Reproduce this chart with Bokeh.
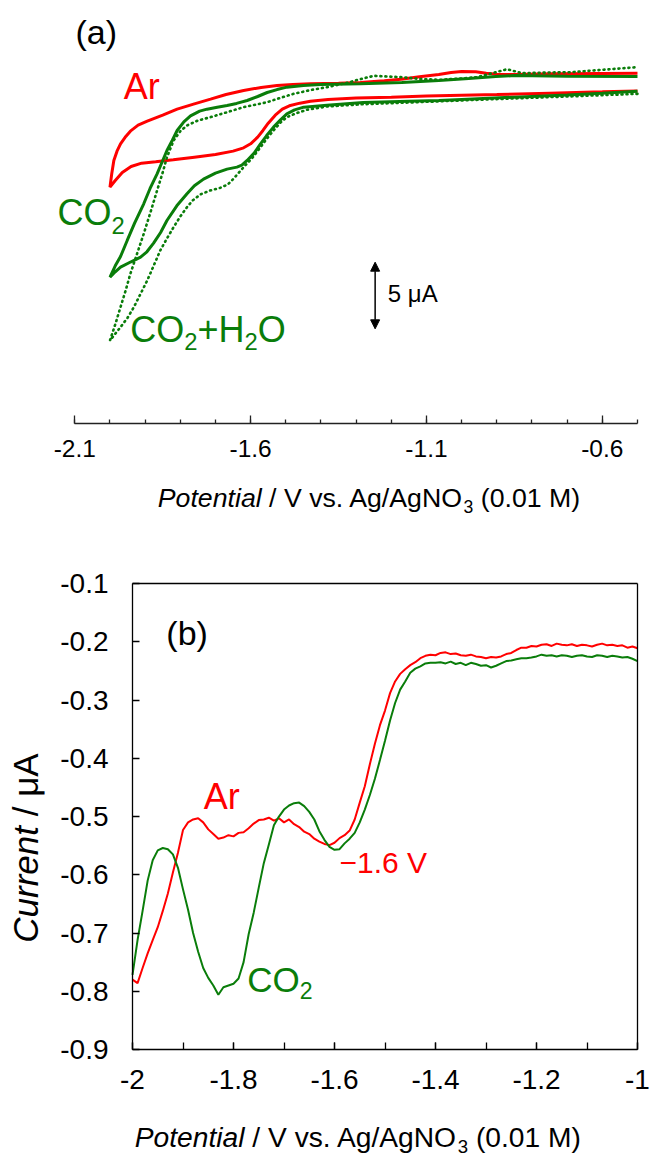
import math
from bokeh.plotting import figure
from bokeh.models import Range1d, FixedTicker, Label, Arrow, NormalHead, LinearAxis
from bokeh.layouts import column
from bokeh.embed import file_html
from bokeh.resources import INLINE

# ---------------- data: panel (a) cyclic voltammograms (current in uA) ----------------
ar_cv_v = [-0.5, -0.6, -0.75, -0.9, -1.0, -1.1, -1.2, -1.3, -1.38, -1.43, -1.46, -1.49, -1.51, -1.53,
           -1.55, -1.565, -1.58, -1.60, -1.62, -1.65, -1.70, -1.76, -1.82, -1.87, -1.91, -1.94, -1.965,
           -1.985, -2.0,
           -1.995, -1.989, -1.980, -1.970, -1.955, -1.942, -1.92, -1.894, -1.85, -1.809, -1.76, -1.714,
           -1.67, -1.62, -1.57, -1.525, -1.48, -1.43, -1.35, -1.288, -1.22, -1.172, -1.12, -1.065, -1.03,
           -1.0, -0.96, -0.93, -0.9, -0.85, -0.742, -0.6, -0.5]
ar_cv_i = [-0.78, -0.85, -0.95, -1.05, -1.1, -1.17, -1.25, -1.32, -1.42, -1.55, -1.70, -1.9, -2.15, -2.6,
           -3.2, -3.75, -4.25, -4.75, -5.05, -5.3, -5.55, -5.75, -5.95, -6.1, -6.2, -6.45, -6.9,
           -7.5, -8.0,
           -7.0, -6.0, -5.3, -4.75, -4.2, -3.8, -3.35, -3.05, -2.6, -2.15, -1.75, -1.4,
           -1.05, -0.75, -0.52, -0.38, -0.3, -0.25, -0.2, -0.15, -0.02, 0.1, 0.28, 0.45, 0.6,
           0.67, 0.65, 0.55, 0.47, 0.45, 0.5, 0.53, 0.55]

co2_cv_v = [-0.5, -0.6, -0.7, -0.85, -1.0, -1.065, -1.15, -1.28, -1.383, -1.449, -1.475, -1.497, -1.515,
            -1.535, -1.555, -1.572, -1.59, -1.61, -1.625, -1.639, -1.667, -1.70, -1.734, -1.76, -1.781,
            -1.81, -1.838, -1.856, -1.876, -1.895, -1.913, -1.94, -1.97, -1.985, -2.0,
            -1.985, -1.97, -1.951, -1.93, -1.904, -1.886, -1.866, -1.85, -1.838, -1.823, -1.809, -1.79,
            -1.771, -1.745, -1.724, -1.695, -1.667, -1.64, -1.61, -1.58, -1.553, -1.525, -1.497, -1.45,
            -1.402, -1.288, -1.17, -1.065, -0.98, -0.903, -0.849, -0.7, -0.5]
co2_cv_i = [-0.8, -0.95, -1.08, -1.25, -1.42, -1.5, -1.56, -1.65, -1.85, -2.0, -2.2, -2.5, -2.95,
            -3.5, -4.15, -4.75, -5.45, -6.0, -6.35, -6.5, -6.65, -6.95, -7.4, -7.9, -8.5,
            -9.4, -10.5, -11.4, -12.2, -12.85, -13.25, -13.6, -14.0, -14.35, -14.75,
            -13.9, -13.2, -12.0, -10.7, -9.25, -8.1, -7.0, -6.0, -5.25, -4.5, -3.75, -3.1,
            -2.65, -2.3, -2.15, -2.0, -1.875, -1.72, -1.5, -1.2, -0.9, -0.68, -0.5, -0.38,
            -0.3, -0.25, -0.15, 0.0, 0.15, 0.3, 0.37, 0.32, 0.30]

h2o_cv_v = [-0.5, -0.7, -0.957, -1.1, -1.28, -1.383, -1.44, -1.47, -1.497, -1.515, -1.535, -1.555, -1.572,
            -1.595, -1.62, -1.648, -1.665, -1.686, -1.715, -1.743, -1.765, -1.781, -1.80, -1.819, -1.838,
            -1.857, -1.875, -1.894, -1.913, -1.932, -1.95, -1.97, -1.985, -2.0,
            -1.985, -1.97, -1.956, -1.942, -1.923, -1.904, -1.885, -1.866, -1.85, -1.838, -1.819, -1.80,
            -1.781, -1.75, -1.714, -1.67, -1.62, -1.553, -1.515, -1.478, -1.43, -1.383, -1.33, -1.288,
            -1.25, -1.21, -1.172, -1.12, -1.065, -1.0, -0.957, -0.92, -0.903, -0.871, -0.85, -0.828,
            -0.75, -0.688, -0.6, -0.5]
h2o_cv_i = [-1.0, -1.2, -1.45, -1.6, -1.78, -1.95, -2.2, -2.45, -2.75, -3.15, -3.75, -4.4, -5.0,
            -5.8, -6.5, -7.35, -7.8, -8.05, -8.25, -8.55, -9.0, -9.5, -10.2, -11.0, -11.85,
            -12.75, -13.85, -15.0, -16.0, -17.0, -17.8, -18.5, -19.0, -19.5,
            -18.3, -17.0, -15.8, -14.5, -13.0, -11.5, -9.9, -8.25, -6.9, -5.75, -4.5, -3.8,
            -3.375, -3.0, -2.75, -2.4, -2.0, -1.625, -1.3, -1.0, -0.72, -0.5, -0.2, 0.1,
            0.35, 0.3, 0.25, 0.12, 0.05, 0.15, 0.25, 0.5, 0.62, 0.85, 0.7, 0.55,
            0.6, 0.625, 0.8, 1.0]

# ---------------- data: panel (b) ----------------
pot_b = [round(-2.0 + 0.01 * k, 2) for k in range(101)]
ar_b = [-0.780, -0.786, -0.760, -0.735, -0.712, -0.690, -0.662, -0.632, -0.596, -0.562,
        -0.523, -0.510, -0.505, -0.503, -0.510, -0.522, -0.530, -0.538, -0.536, -0.532,
        -0.534, -0.528, -0.527, -0.520, -0.512, -0.506, -0.505, -0.502, -0.507, -0.503,
        -0.510, -0.505, -0.513, -0.518, -0.526, -0.530, -0.538, -0.543, -0.547, -0.549,
        -0.545, -0.537, -0.532, -0.524, -0.505, -0.476, -0.448, -0.410, -0.375, -0.343,
        -0.318, -0.288, -0.268, -0.255, -0.247, -0.240, -0.235, -0.228, -0.224, -0.222,
        -0.223, -0.219, -0.218, -0.221, -0.220, -0.223, -0.224, -0.222, -0.225, -0.226,
        -0.228, -0.226, -0.227, -0.225, -0.221, -0.219, -0.214, -0.210, -0.210, -0.207,
        -0.208, -0.205, -0.204, -0.207, -0.203, -0.205, -0.206, -0.204, -0.207, -0.205,
        -0.206, -0.208, -0.205, -0.203, -0.206, -0.205, -0.207, -0.206, -0.210, -0.208,
        -0.211]
co2_b = [-0.772, -0.712, -0.662, -0.610, -0.575, -0.558, -0.554, -0.556, -0.565, -0.588,
         -0.625, -0.660, -0.700, -0.732, -0.760, -0.777, -0.790, -0.806, -0.793, -0.790,
         -0.787, -0.778, -0.750, -0.702, -0.665, -0.622, -0.580, -0.548, -0.515, -0.500,
         -0.488, -0.481, -0.477, -0.476, -0.482, -0.492, -0.505, -0.525, -0.540, -0.552,
         -0.557, -0.556, -0.546, -0.538, -0.528, -0.510, -0.488, -0.463, -0.435, -0.403,
         -0.370, -0.335, -0.305, -0.282, -0.268, -0.253, -0.246, -0.242, -0.237, -0.236,
         -0.236, -0.235, -0.237, -0.234, -0.238, -0.236, -0.240, -0.236, -0.238, -0.241,
         -0.240, -0.244, -0.241, -0.237, -0.233, -0.232, -0.230, -0.228, -0.228, -0.227,
         -0.225, -0.222, -0.224, -0.223, -0.225, -0.223, -0.224, -0.226, -0.224, -0.223,
         -0.225, -0.226, -0.223, -0.224, -0.226, -0.224, -0.225, -0.227, -0.226, -0.229,
         -0.233]

# ---------------- ticks ----------------
ticks_a = [-2.1, -1.6, -1.1, -0.6]
minor_a = [round(-2.1 + 0.1 * k, 1) for k in range(17)]
ticks_bx = [-2.0, -1.8, -1.6, -1.4, -1.2, -1.0]
minor_bx = [round(-2.0 + 0.1 * k, 1) for k in range(11)]
ticks_by = [-0.9, -0.8, -0.7, -0.6, -0.5, -0.4, -0.3, -0.2, -0.1]

RED = "#ff0000"
GREEN = "#0a7d0a"
FONT = "Liberation Sans"

W = {' ': 278, '/': 278, 'V': 667, 'v': 500, 's': 500, '.': 278, 'A': 667, 'g': 556, 'N': 722,
     'O': 778, '(': 333, ')': 333, '0': 556, '1': 556, 'M': 833, 'P': 667, 'o': 556, 't': 278,
     'e': 556, 'n': 556, 'i': 222, 'a': 556, 'l': 222, 'C': 722, 'u': 556, 'r': 333, 'μ': 576,
     '3': 556, '2': 556, '+': 584, 'H': 722, '−': 584, '6': 556, 'b': 556, '5': 556}


def tw(s, size):
    return sum(W.get(c, 556) for c in s) / 1000.0 * size


def rich(p, x, y, segs, size, color, dx=0.0, dy=0.0, angle=0.0):
    """Text runs placed side by side; (x, y) + (dx, dy) is the baseline start (dy up)."""
    cur = 0.0
    for txt, kind in segs:
        fs = size * 0.66 if kind == "sub" else size
        shift = -0.22 * size if kind == "sub" else 0.0
        style = "italic" if kind == "i" else "normal"
        lead = len(txt) - len(txt.lstrip())
        off = cur + tw(txt[:lead], fs)
        if angle == 0:
            xo, yo = dx + off, dy + shift + 0.35 * fs
        else:
            xo, yo = dx, dy + off
        p.add_layout(Label(x=x, y=y, x_offset=xo, y_offset=yo, text=txt.strip(), angle=angle,
                           text_font=FONT, text_font_size=f"{fs:.1f}px", text_font_style=style,
                           text_color=color, text_align="left", text_baseline="middle"))
        cur += tw(txt, fs)


def style_axis(a, size, tin, minor_in, color):
    a.major_tick_in = tin
    a.major_tick_out = 0
    a.minor_tick_in = minor_in
    a.minor_tick_out = 0
    a.axis_line_color = color
    a.major_tick_line_color = color
    a.minor_tick_line_color = color
    a.axis_line_width = 1.3
    a.major_tick_line_width = 1.3
    a.minor_tick_line_width = 1.3
    a.major_label_text_font = FONT
    a.major_label_text_font_size = size
    a.major_label_text_color = "black"


TITLE = [("Potential", "i"), (" / V vs. Ag/AgNO", "n"), ("3", "sub"), (" (0.01 M)", "n")]

# ---------------- panel (a) ----------------
pa = figure(width=650, height=540, x_range=Range1d(-2.3113, -0.4630), y_range=Range1d(-34.509, 6.0015),
            output_backend="svg", toolbar_location=None, x_axis_location=None, y_axis_location=None,
            min_border_left=0, min_border_right=0, min_border_top=0, min_border_bottom=0)
pa.outline_line_color = None
pa.xgrid.grid_line_color = None
pa.ygrid.grid_line_color = None

ax = LinearAxis(fixed_location=-25.71, bounds=(-2.1, -0.5),
                ticker=FixedTicker(ticks=ticks_a, minor_ticks=minor_a))
ax.major_label_overrides = {t: f"{t:.1f}" for t in ticks_a}
style_axis(ax, "24.5px", 8, 4, "#222222")
ax.major_label_standoff = 17
pa.add_layout(ax, "below")

pa.line(ar_cv_v, ar_cv_i, line_color=RED, line_width=3)
pa.line(co2_cv_v, co2_cv_i, line_color=GREEN, line_width=3)
pa.line(h2o_cv_v, h2o_cv_i, line_color=GREEN, line_width=2.6, line_dash="1 4", line_cap="round")

# scale bar 5 uA
sb_x, sb_top, sb_len = -1.246, -13.63, 5.0
pa.add_layout(Arrow(start=NormalHead(size=9, fill_color="black", line_color="black"),
                    end=NormalHead(size=9, fill_color="black", line_color="black"),
                    x_start=sb_x, y_start=sb_top - sb_len, x_end=sb_x, y_end=sb_top,
                    line_color="black", line_width=1.5))
rich(pa, -1.21, -16.63, [("5 μA", "n")], 24, "black")
rich(pa, -2.098, 2.78, [("(a)", "n")], 34, "black")
rich(pa, -1.961, -1.37, [("Ar", "n")], 36, RED)
rich(pa, -2.149, -10.88, [("CO", "n"), ("2", "sub")], 36, GREEN)
rich(pa, -1.942, -19.63, [("CO", "n"), ("2", "sub"), ("+H", "n"), ("2", "sub"), ("O", "n")], 36, GREEN)
rich(pa, -2.1, -25.71, TITLE, 26.7, "black", dx=83, dy=-84)

# ---------------- panel (b) ----------------
pb = figure(width=650, height=620, x_range=Range1d(-2.2614, -0.97426), y_range=Range1d(-1.09056, -0.02596),
            output_backend="svg", toolbar_location=None, x_axis_location=None, y_axis_location=None,
            min_border_left=0, min_border_right=0, min_border_top=0, min_border_bottom=0)
pb.outline_line_color = None
pb.xgrid.grid_line_color = None
pb.ygrid.grid_line_color = None

bx = LinearAxis(fixed_location=-0.9, bounds=(-2.0, -1.0),
                ticker=FixedTicker(ticks=ticks_bx, minor_ticks=minor_bx))
bx.major_label_overrides = {t: ("%g" % t) for t in ticks_bx}
style_axis(bx, "28px", 7, 7, "black")
bx.major_label_standoff = 20
pb.add_layout(bx, "below")

by = LinearAxis(fixed_location=-2.0, bounds=(-0.9, -0.1),
                ticker=FixedTicker(ticks=ticks_by, minor_ticks=[]))
by.major_label_overrides = {t: f"{t:.1f}" for t in ticks_by}
style_axis(by, "28px", 7, 0, "black")
by.major_label_standoff = 24
pb.add_layout(by, "left")

btop = LinearAxis(fixed_location=-0.1, bounds=(-2.0, -1.0), ticker=FixedTicker(ticks=[], minor_ticks=[]))
style_axis(btop, "28px", 0, 0, "black")
pb.add_layout(btop, "above")
bright = LinearAxis(fixed_location=-1.0, bounds=(-0.9, -0.1), ticker=FixedTicker(ticks=[], minor_ticks=[]))
style_axis(bright, "28px", 0, 0, "black")
pb.add_layout(bright, "right")

pb.line(pot_b, ar_b, line_color=RED, line_width=2)
pb.line(pot_b, co2_b, line_color=GREEN, line_width=2)

rich(pb, -1.933, -0.206, [("(b)", "n")], 34, "black")
rich(pb, -1.859, -0.488, [("Ar", "n")], 36, RED)
rich(pb, -1.590, -0.597, [("−1.6 V", "n")], 30, RED)
rich(pb, -1.773, -0.80, [("CO", "n"), ("2", "sub")], 35, GREEN)
rich(pb, -2.0, -0.9, TITLE, 28.2, "black", dx=2.3, dy=-97.7)
rich(pb, -2.0, -0.7166, [("Current", "i"), (" / μA", "n")], 35, "black", dx=-107, angle=math.pi / 2)

layout = column(pa, pb)
open("out.html", "w").write(file_html(layout, INLINE))
